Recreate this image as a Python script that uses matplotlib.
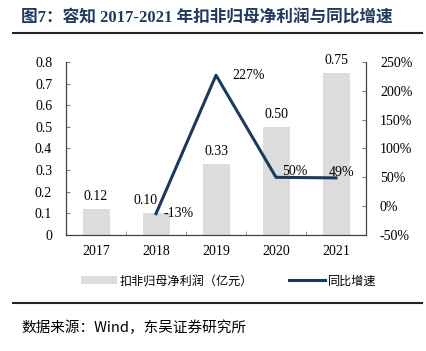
import matplotlib
matplotlib.use("Agg")
import matplotlib.pyplot as plt
from matplotlib.lines import Line2D
from matplotlib.patches import Patch

years = ["2017", "2018", "2019", "2020", "2021"]
profit = [0.12, 0.10, 0.33, 0.50, 0.75]
profit_labels = ["0.12", "0.10", "0.33", "0.50", "0.75"]
growth_years = [1, 2, 3, 4]
growth = [-13, 227, 50, 49]
growth_labels = ["-13%", "227%", "50%", "49%"]

serif = ["Liberation Serif", "Noto Sans CJK SC"]
cjk = ["Noto Sans CJK SC", "DejaVu Sans"]
bar_color = "#dcdcdc"
line_color = "#1b3a5f"
fs = 10

fig = plt.figure(figsize=(4.27, 3.51), dpi=100)
ax = fig.add_axes([0.1546, 0.3305, 0.7026, 0.493])
ax2 = ax.twinx()

x = list(range(len(years)))
ax.bar(x, profit, width=0.45, color=bar_color, zorder=1)
for i, v in enumerate(profit):
    dx = -0.17 if i == 1 else 0
    ax.text(i + dx, v + 0.028, profit_labels[i], ha="center", va="bottom",
            fontsize=fs, family=serif)

ax.set_xlim(-0.5, 4.5)
ax.set_ylim(0, 0.8)
ax.set_yticks([0, 0.1, 0.2, 0.3, 0.4, 0.5, 0.6, 0.7, 0.8])
ax.set_yticklabels(["0", "0.1", "0.2", "0.3", "0.4", "0.5", "0.6", "0.7", "0.8"])
ax.set_xticks(x)
ax.set_xticklabels(years)
ax.set_xticks([0.5, 1.5, 2.5, 3.5], minor=True)
ax.tick_params(axis="x", which="major", length=0, pad=7)
ax.tick_params(axis="x", which="minor", length=3, direction="in", color="#808080")
ax.tick_params(axis="y", length=3, direction="in", color="#808080", pad=10)
for lab in ax.get_xticklabels() + ax.get_yticklabels():
    lab.set_family(serif)
    lab.set_fontsize(fs)

ax2.plot(growth_years, growth, color=line_color, lw=2.2, zorder=3)
ax2.set_ylim(-50, 250)
ax2.set_yticks([-50, 0, 50, 100, 150, 200, 250])
ax2.set_yticklabels(["-50%", "0%", "50%", "100%", "150%", "200%", "250%"])
ax2.tick_params(axis="y", length=3, direction="in", color="#808080", pad=10)
for lab in ax2.get_yticklabels():
    lab.set_family(serif)
    lab.set_fontsize(fs)

offsets = [(0.12, 0), (0.27, 0), (0.32, 10), (0.1, 10)]
for xi, v, s, (dx, dy) in zip(growth_years, growth, growth_labels, offsets):
    ax2.text(xi + dx, v + dy, s, ha="left" if xi < 3 else "center", va="center",
             fontsize=fs, family=serif)

for a in (ax, ax2):
    a.spines["top"].set_visible(False)
    for s in ("left", "right", "bottom"):
        a.spines[s].set_color("#404040")
        a.spines[s].set_linewidth(0.8)
ax.set_zorder(0)
ax2.set_zorder(1)
ax2.patch.set_visible(False)

handles = [Patch(facecolor=bar_color, edgecolor="none"),
           Line2D([0], [0], color=line_color, lw=2.2)]
fig.legend(handles, ["扣非归母净利润（亿元）", "同比增速"], loc="center",
           bbox_to_anchor=(0.535, 0.2), ncol=2, frameon=False,
           prop={"family": cjk, "size": 8.7}, handlelength=3.0,
           handletextpad=0.2, columnspacing=3.0)

fig.text(0.05, 0.948, "图7：容知 2017-2021 年扣非归母净利润与同比增速",
         fontsize=12, fontweight="bold", color="#1f3a60", family=serif,
         va="center")
fig.add_artist(Line2D([0.03, 0.988], [0.905, 0.905], color="#222222", lw=1.5))
fig.add_artist(Line2D([0.03, 0.988], [0.137, 0.137], color="#222222", lw=1.5))
fig.text(0.05, 0.066, "数据来源：Wind，东吴证券研究所", fontsize=10.5,
         family=cjk, va="center")

fig.savefig("out.png", dpi=100)
